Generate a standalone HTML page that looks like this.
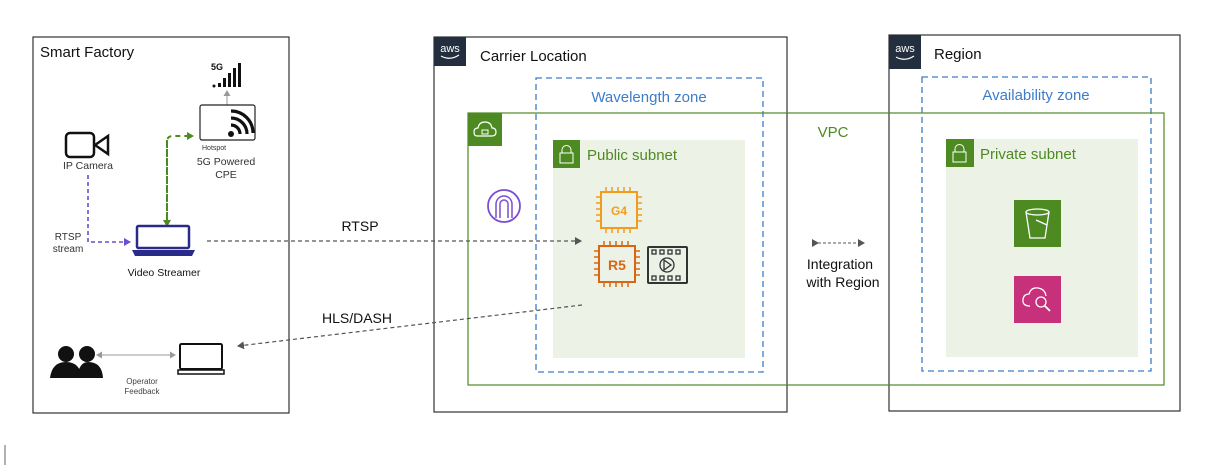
<!DOCTYPE html>
<html><head><meta charset="utf-8"><style>
body{margin:0;width:1229px;height:467px;background:#fff;overflow:hidden;font-family:"Liberation Sans",sans-serif}
</style></head><body>
<svg width="1229" height="467" viewBox="0 0 1229 467" xmlns="http://www.w3.org/2000/svg" font-family="Liberation Sans, sans-serif">
<defs>
<marker id="ag" markerWidth="8" markerHeight="8" refX="6" refY="4" orient="auto" markerUnits="userSpaceOnUse"><path d="M0,0 L7,4 L0,8z" fill="#555"/></marker>
<marker id="ap" markerWidth="8" markerHeight="8" refX="6" refY="4" orient="auto" markerUnits="userSpaceOnUse"><path d="M0,0 L7,4 L0,8z" fill="#6a4fd0"/></marker>
<marker id="agr" markerWidth="8" markerHeight="8" refX="6" refY="4" orient="auto" markerUnits="userSpaceOnUse"><path d="M0,0 L7,4 L0,8z" fill="#4e8a22"/></marker>
<marker id="agl" markerWidth="7" markerHeight="7" refX="5" refY="3.5" orient="auto-start-reverse" markerUnits="userSpaceOnUse"><path d="M0,0 L6,3.5 L0,7z" fill="#999"/></marker>
</defs>
<line x1="5" y1="445" x2="5" y2="465" stroke="#666"/>
<!-- Smart Factory -->
<rect x="33" y="37" width="256" height="376" fill="none" stroke="#333" stroke-width="1.2"/>
<text x="40" y="57" font-size="15" fill="#111">Smart Factory</text>
<!-- camera -->
<rect x="66" y="133" width="28" height="24" rx="4" fill="none" stroke="#111" stroke-width="2.5"/>
<path d="M95,145 L108,136 L108,154 Z" fill="none" stroke="#111" stroke-width="2.5"/>
<text x="88" y="169" font-size="10.5" fill="#333" text-anchor="middle">IP Camera</text>
<!-- 5G -->
<text x="211" y="70" font-size="9" font-weight="bold" fill="#111">5G</text>
<g fill="#111"><rect x="218" y="83" width="3" height="4"/><rect x="223" y="78" width="3" height="9"/><rect x="228" y="73" width="3" height="14"/><rect x="233" y="68" width="3" height="19"/><rect x="238" y="63" width="3" height="24"/><circle cx="214" cy="86" r="1.5"/></g>
<line x1="227" y1="106" x2="227" y2="91" stroke="#999" marker-end="url(#agl)"/>
<rect x="200" y="105" width="55" height="35" rx="2" fill="#fff" stroke="#222" stroke-width="1.2"/>
<circle cx="231" cy="134" r="3" fill="#111"/>
<path d="M231,125 a9,9 0 0 1 9,9 M231,118 a16,16 0 0 1 16,16 M231,111 a22,22 0 0 1 22,22" fill="none" stroke="#111" stroke-width="3.2"/>
<text x="202" y="150" font-size="7" fill="#333">Hotspot</text>
<text x="226" y="165" font-size="10.5" fill="#333" text-anchor="middle">5G Powered</text>
<text x="226" y="178" font-size="10.5" fill="#333" text-anchor="middle">CPE</text>
<path d="M167,220 L167,142 Q167,136 173,136 L193,136" fill="none" stroke="#4e8a22" stroke-width="2" stroke-dasharray="5,4" marker-end="url(#agr)"/>
<path d="M167,140 L167,226" fill="none" stroke="#4e8a22" stroke-width="2" stroke-dasharray="5,4" marker-end="url(#agr)"/>
<!-- laptop streamer -->
<rect x="137" y="226" width="52" height="22" rx="1.5" fill="none" stroke="#2a2a8a" stroke-width="2.5"/>
<path d="M132,250 L195,250 L192,256 L135,256 Z" fill="#2a2a8a"/>
<text x="164" y="276" font-size="10.5" fill="#111" text-anchor="middle">Video Streamer</text>
<path d="M88,175 L88,242 L130,242" fill="none" stroke="#6a4fd0" stroke-width="1.6" stroke-dasharray="4,3" marker-end="url(#ap)"/>
<text x="68" y="240" font-size="10" fill="#333" text-anchor="middle">RTSP</text>
<text x="68" y="252" font-size="10" fill="#333" text-anchor="middle">stream</text>
<!-- people -->
<circle cx="66" cy="354" r="8" fill="#111"/><circle cx="87" cy="354" r="8" fill="#111"/>
<path d="M50,378 Q52,362 66,362 Q80,362 82,378 Z" fill="#111"/>
<path d="M77,378 Q79,362 88,362 Q102,362 103,378 Z" fill="#111"/>
<line x1="97" y1="355" x2="175" y2="355" stroke="#999" marker-start="url(#agl)" marker-end="url(#agl)"/>
<rect x="180" y="344" width="42" height="25" rx="1.5" fill="none" stroke="#111" stroke-width="2"/>
<path d="M178,370 L224,370 L224,374 L178,374 Z" fill="none" stroke="#111" stroke-width="1.5"/>
<text x="142" y="384" font-size="8" fill="#444" text-anchor="middle">Operator</text>
<text x="142" y="394" font-size="8" fill="#444" text-anchor="middle">Feedback</text>
<!-- Carrier -->
<rect x="434" y="37" width="353" height="375" fill="none" stroke="#333" stroke-width="1.2"/>
<rect x="434" y="37" width="32" height="29" fill="#232f3e"/>
<text x="450" y="52" font-size="11" fill="#fff" text-anchor="middle">aws</text>
<path d="M441,56 Q450,61 459,55" fill="none" stroke="#fff" stroke-width="1.2"/>
<text x="480" y="61" font-size="15" fill="#111">Carrier Location</text>
<rect x="536" y="78" width="227" height="294" fill="none" stroke="#3d7cc9" stroke-width="1.3" stroke-dasharray="6,4"/>
<text x="649" y="102" font-size="15" fill="#3d7cc9" text-anchor="middle">Wavelength zone</text>
<!-- Region -->
<rect x="889" y="35" width="291" height="376" fill="none" stroke="#333" stroke-width="1.2"/>
<rect x="889" y="35" width="32" height="34" fill="#232f3e"/>
<text x="905" y="52" font-size="11" fill="#fff" text-anchor="middle">aws</text>
<path d="M896,57 Q905,62 914,56" fill="none" stroke="#fff" stroke-width="1.2"/>
<text x="934" y="59" font-size="15" fill="#111">Region</text>
<rect x="922" y="77" width="229" height="294" fill="none" stroke="#3d7cc9" stroke-width="1.3" stroke-dasharray="6,4"/>
<text x="1036" y="100" font-size="15" fill="#3d7cc9" text-anchor="middle">Availability zone</text>
<!-- VPC -->
<rect x="468" y="113" width="696" height="272" fill="none" stroke="#4e8a22" stroke-width="1.2"/>
<rect x="468" y="113" width="34" height="33" fill="#4e8a22"/>
<path d="M477,136 Q474,136 474,132 Q474,128 478,128 Q479,122 485,122 Q491,122 492,128 Q496,128 496,132 Q496,136 492,136 Z" fill="none" stroke="#fff" stroke-width="1.2"/>
<rect x="482" y="130" width="6" height="4" fill="none" stroke="#fff"/>
<text x="833" y="137" font-size="15" fill="#4e8a22" text-anchor="middle">VPC</text>
<!-- subnets -->
<rect x="553" y="140" width="192" height="218" fill="#edf2e7"/>
<rect x="553" y="140" width="27" height="28" fill="#4e8a22"/>
<rect x="560" y="153" width="13" height="10" fill="none" stroke="#fff"/><path d="M562,153 v-3 a4.5,4.5 0 0 1 9,0 v3" fill="none" stroke="#fff"/>
<text x="587" y="160" font-size="15" fill="#4e8a22">Public subnet</text>
<rect x="946" y="139" width="192" height="218" fill="#edf2e7"/>
<rect x="946" y="139" width="28" height="28" fill="#4e8a22"/>
<rect x="953" y="152" width="13" height="10" fill="none" stroke="#fff"/><path d="M955,152 v-3 a4.5,4.5 0 0 1 9,0 v3" fill="none" stroke="#fff"/>
<text x="980" y="159" font-size="15" fill="#4e8a22">Private subnet</text>
<!-- nitro -->
<circle cx="504" cy="206" r="16" fill="none" stroke="#7b4fd0" stroke-width="1.8"/>
<path d="M496,218 V204 a8,8 0 0 1 16,0 V218 M500,218 V204 a4,4 0 0 1 8,0 V218" fill="none" stroke="#7b4fd0" stroke-width="1.5"/>
<!-- chips -->
<rect x="601" y="192" width="36" height="36" fill="none" stroke="#f29c1f" stroke-width="2"/>
<g stroke="#f29c1f" stroke-width="1.5"><path d="M606,192v-5M612,192v-5M618,192v-5M624,192v-5M630,192v-5M606,228v5M612,228v5M618,228v5M624,228v5M630,228v5M601,197h-5M601,203h-5M601,209h-5M601,215h-5M601,221h-5M637,197h5M637,203h5M637,209h5M637,215h5M637,221h5"/></g>
<text x="619" y="215" font-size="12" font-weight="bold" fill="#f29c1f" text-anchor="middle">G4</text>
<rect x="599" y="246" width="36" height="36" fill="none" stroke="#d86613" stroke-width="2"/>
<g stroke="#d86613" stroke-width="1.5"><path d="M604,246v-5M610,246v-5M616,246v-5M622,246v-5M628,246v-5M604,282v5M610,282v5M616,282v5M622,282v5M628,282v5M599,251h-5M599,257h-5M599,263h-5M599,269h-5M599,275h-5M635,251h5M635,257h5M635,263h5M635,269h5M635,275h5"/></g>
<text x="617" y="270" font-size="14" font-weight="bold" fill="#d86613" text-anchor="middle">R5</text>
<rect x="648" y="247" width="39" height="36" rx="1" fill="none" stroke="#333" stroke-width="2"/>
<g fill="none" stroke="#333" stroke-width="1.3"><rect x="652" y="250" width="4" height="4"/><rect x="660" y="250" width="4" height="4"/><rect x="668" y="250" width="4" height="4"/><rect x="676" y="250" width="4" height="4"/><rect x="652" y="276" width="4" height="4"/><rect x="660" y="276" width="4" height="4"/><rect x="668" y="276" width="4" height="4"/><rect x="676" y="276" width="4" height="4"/><circle cx="667" cy="265" r="7"/><path d="M664,260 L671,265 L664,270Z"/></g>
<!-- S3 / pink -->
<rect x="1014" y="200" width="47" height="47" fill="#4e8a22"/>
<path d="M1026,212 L1030,238 L1045,238 L1049,212" fill="none" stroke="#fff" stroke-width="1.3"/>
<ellipse cx="1037.5" cy="212" rx="11.5" ry="3" fill="none" stroke="#fff" stroke-width="1.3"/>
<line x1="1036" y1="220" x2="1047" y2="225" stroke="#fff" stroke-width="1.3"/>
<rect x="1014" y="276" width="47" height="47" fill="#c7307a"/>
<path d="M1030,306 Q1022,306 1023,299 Q1024,294 1029,294 Q1031,287 1038,288 Q1045,289 1046,296" fill="none" stroke="#fff" stroke-width="1.3"/>
<circle cx="1041" cy="302" r="5" fill="none" stroke="#fff" stroke-width="1.3"/>
<line x1="1045" y1="306" x2="1050" y2="311" stroke="#fff" stroke-width="1.8"/>
<!-- connectors -->
<line x1="207" y1="241" x2="581" y2="241" stroke="#555" stroke-width="1.2" stroke-dasharray="4,3" marker-end="url(#ag)"/>
<text x="360" y="231" font-size="14" fill="#111" text-anchor="middle">RTSP</text>
<line x1="582" y1="305" x2="238" y2="346" stroke="#555" stroke-width="1.2" stroke-dasharray="4,3" marker-end="url(#ag)"/>
<text x="357" y="323" font-size="14" fill="#111" text-anchor="middle">HLS/DASH</text>
<line x1="818" y1="243" x2="864" y2="243" stroke="#555" stroke-width="1" stroke-dasharray="3,2" marker-start="url(#ag)" marker-end="url(#ag)"/>
<text x="840" y="269" font-size="14" fill="#111" text-anchor="middle">Integration</text>
<text x="843" y="287" font-size="14" fill="#111" text-anchor="middle">with Region</text>
</svg>
</body></html>
